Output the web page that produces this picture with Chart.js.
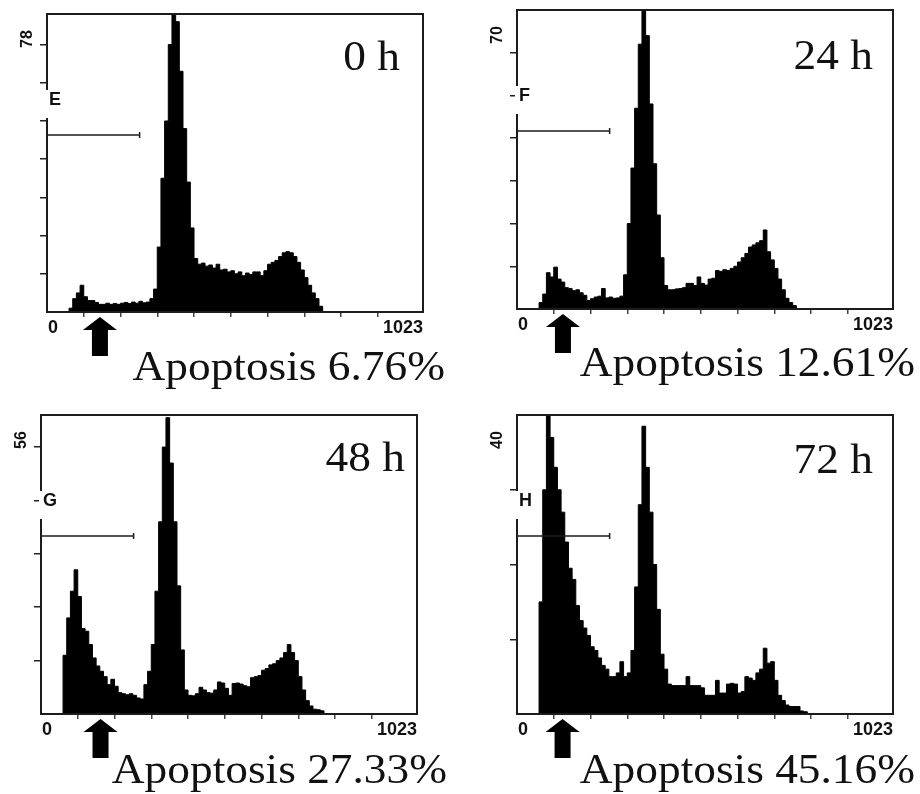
<!DOCTYPE html>
<html>
<head>
<meta charset="utf-8">
<title>DNA content histograms</title>
<script src="https://cdn.jsdelivr.net/npm/chart.js@4.4.1/dist/chart.umd.min.js"></script>
<style>
  body { margin: 0; background: #fff; }
  #wrap { position: relative; width: 920px; height: 794px; }
  canvas { position: absolute; }
</style>
</head>
<body>
<div id="wrap">
  <canvas id="c0" width="460" height="397" style="left:0;top:0"></canvas>
  <canvas id="c1" width="460" height="397" style="left:460px;top:0"></canvas>
  <canvas id="c2" width="460" height="397" style="left:0;top:397px"></canvas>
  <canvas id="c3" width="460" height="397" style="left:460px;top:397px"></canvas>
</div>
<script>
// bin start channel (10 channels per bin, 0..1023)
const channels = [
  0, 10, 20, 30, 40, 50, 60, 70, 80, 90,
  100, 110, 120, 130, 140, 150, 160, 170, 180, 190,
  200, 210, 220, 230, 240, 250, 260, 270, 280, 290,
  300, 310, 320, 330, 340, 350, 360, 370, 380, 390,
  400, 410, 420, 430, 440, 450, 460, 470, 480, 490,
  500, 510, 520, 530, 540, 550, 560, 570, 580, 590,
  600, 610, 620, 630, 640, 650, 660, 670, 680, 690,
  700, 710, 720, 730, 740, 750, 760, 770, 780, 790,
  800, 810, 820, 830, 840, 850, 860, 870, 880, 890,
  900, 910, 920, 930, 940, 950, 960, 970, 980, 990,
  1000, 1010, 1020
];

const counts0h = [
  0, 0, 0, 0, 0, 0, 1, 3.5, 5, 7,
  4, 3, 3, 2.5, 2, 2, 2.3, 2, 2.2, 2,
  2.3, 2.5, 2.2, 2.6, 2.3, 2.8, 2.4, 2.6, 3.5, 6,
  17, 35, 50, 70, 90, 76, 63, 48, 34, 22,
  14, 12.5, 12.8, 12, 12.3, 11.5, 12.5, 11, 11.2, 10.5,
  10.8, 10, 10.5, 9.5, 10.2, 9.8, 10.5, 10.5, 9.5, 10.8,
  12.5, 13, 13.5, 14.5, 15.5, 15.8, 15.5, 14.5, 13, 11,
  9, 7, 5, 3.5, 1.5, 0, 0, 0, 0, 0,
  0, 0, 0, 0, 0, 0, 0, 0, 0, 0,
  0, 0, 0, 0, 0, 0, 0, 0, 0, 0,
  0, 0, 0
];

const counts24h = [
  0, 0, 0, 0, 0, 0, 1.5, 3.5, 8.5, 7.5,
  9.8, 7, 6.3, 5, 4.8, 4.3, 4.5, 3.8, 3.2, 2,
  2.4, 2.8, 3, 4.8, 2.6, 2.8, 2.5, 2.6, 3, 8,
  20, 33, 47, 62, 75, 64, 48, 34, 22, 12,
  5.5, 4.5, 4.5, 4.7, 4.8, 5, 6, 6, 5.5, 7.5,
  6, 5.6, 7, 7.2, 9, 8.8, 9.2, 9, 9.5, 10,
  11, 12, 13, 14.5, 15, 15.5, 16, 18.5, 13.4, 11.5,
  9.5, 7, 4.5, 2.5, 1.5, 0.8, 0, 0, 0, 0,
  0, 0, 0, 0, 0, 0, 0, 0, 0, 0,
  0, 0, 0, 0, 0, 0, 0, 0, 0, 0,
  0, 0, 0
];

const counts48h = [
  0, 0, 0, 0, 0, 0, 11, 18, 23, 27,
  22, 16, 15.5, 13, 10.5, 9, 8, 7, 5.5, 6.5,
  5.2, 4, 3.8, 3.6, 3.8, 3.5, 3, 2.8, 5.5, 8,
  13, 23, 36, 50, 55.5, 47, 36, 24, 12, 4.5,
  3.5, 3.4, 3.8, 5, 4.5, 4, 3.9, 4.5, 6, 5.8,
  4.8, 3.5, 5.7, 5.8, 5.6, 5.3, 5.1, 6.8, 7, 7.2,
  8.2, 8.5, 9.2, 9.4, 10, 10.5, 11.5, 13, 11.5, 10,
  7, 4.5, 2.5, 1.5, 0.9, 0.8, 0.6, 0, 0, 0,
  0, 0, 0, 0, 0, 0, 0, 0, 0, 0,
  0, 0, 0, 0, 0, 0, 0, 0, 0, 0,
  0, 0, 0
];

const counts72h = [
  0, 0, 0, 0, 0, 0, 15, 30, 42, 37,
  33, 30, 27, 23, 19.5, 18, 14.5, 12.5, 11.5, 10.5,
  9, 8.5, 7.5, 6.5, 6, 5, 5, 5.5, 7, 5,
  5.5, 8.5, 17, 28, 38.5, 33, 27, 20, 14, 8,
  6, 4, 3.8, 3.8, 3.8, 3.8, 5, 3.8, 3.8, 3.8,
  3.5, 2.5, 2.5, 2.5, 4.5, 2.8, 2.8, 4, 4.1, 4,
  2.8, 3, 5, 4.8, 4.5, 5.5, 6, 8.8, 6.8, 7,
  4.5, 2.5, 1.8, 1.2, 1, 1, 1, 0.4, 0.3, 0,
  0, 0, 0, 0, 0, 0, 0, 0, 0, 0,
  0, 0, 0, 0, 0, 0, 0, 0, 0, 0,
  0, 0, 0
];

const yMaxLabels = [78, 70, 56, 40];
const timeLabels = ['0 h', '24 h', '48 h', '72 h'];
const gateLetters = ['E', 'F', 'G', 'H'];
const apoptosisLabels = ['Apoptosis 6.76%', 'Apoptosis 12.61%', 'Apoptosis 27.33%', 'Apoptosis 45.16%'];
const xTickLabels = ['0', '1023'];
const xTickMarks = [100, 200, 300, 400, 500, 600, 700, 800, 900];
const arrowChannels = [144, 125, 162, 124];
const gateEnd = 252;

// placement of each panel inside its canvas
const panels = [
  { id: 'c0', counts: counts0h, pad: { left: 47, right: 37, top: 14, bottom: 85 }, titleInset: 23, titleBase: 56, apoDx: 22, apoDy: 68 },
  { id: 'c1', counts: counts24h, pad: { left: 57, right: 27, top: 10, bottom: 88 }, titleInset: 20, titleBase: 59, apoDx: 22, apoDy: 67 },
  { id: 'c2', counts: counts48h, pad: { left: 41, right: 43, top: 18, bottom: 80 }, titleInset: 12, titleBase: 56, apoDx: 30, apoDy: 69 },
  { id: 'c3', counts: counts72h, pad: { left: 57, right: 27, top: 18, bottom: 80 }, titleInset: 20, titleBase: 58, apoDx: 22, apoDy: 69 }
];

function scaledText(ctx, text, x, y, font, sx) {
  ctx.save();
  ctx.translate(x, y);
  ctx.scale(sx, 1);
  ctx.font = font;
  ctx.textAlign = 'right';
  ctx.textBaseline = 'alphabetic';
  ctx.fillText(text, 0, 0);
  ctx.restore();
}

function makeChart(p, i) {
  const yMax = yMaxLabels[i];

  const decor = {
    id: 'decor' + i,
    afterDraw(chart) {
      const ctx = chart.ctx, a = chart.chartArea, xs = chart.scales.x;
      ctx.save();

      // plot frame
      ctx.strokeStyle = '#1c1c1c';
      ctx.lineWidth = 2;
      ctx.strokeRect(a.left, a.top, a.right - a.left, a.bottom - a.top);

      // axis is broken where the marker letter sits
      ctx.fillStyle = '#fff';
      ctx.fillRect(a.left - 2, a.top + 76, 4, 28);
      ctx.fillStyle = '#111';
      ctx.font = 'bold 18px "Liberation Sans"';
      ctx.textAlign = 'left';
      ctx.textBaseline = 'middle';
      ctx.fillText(gateLetters[i], a.left + 2, a.top + 86);

      // gate marker
      const gy = a.top + 121, gx = xs.getPixelForValue(gateEnd);
      ctx.strokeStyle = '#1c1c1c';
      ctx.lineWidth = 1.5;
      ctx.beginPath();
      ctx.moveTo(a.left, gy);
      ctx.lineTo(gx, gy);
      ctx.moveTo(gx, gy - 3);
      ctx.lineTo(gx, gy + 3);
      ctx.stroke();

      // y max label, rotated
      ctx.save();
      ctx.translate(a.left - 19, a.top + 25);
      ctx.rotate(-Math.PI / 2);
      ctx.font = 'bold 16px "Liberation Sans"';
      ctx.textAlign = 'center';
      ctx.fillText(String(yMax), 0, 0);
      ctx.restore();

      // x end labels
      ctx.font = 'bold 18px "Liberation Sans"';
      ctx.textAlign = 'left';
      ctx.fillText(xTickLabels[0], a.left + 1, a.bottom + 16);
      ctx.textAlign = 'right';
      ctx.fillText(xTickLabels[1], a.right, a.bottom + 16);

      // arrow under the sub-G1 region
      const ax = xs.getPixelForValue(arrowChannels[i]), ay = a.bottom + 5;
      ctx.fillStyle = '#000';
      ctx.beginPath();
      ctx.moveTo(ax, ay);
      ctx.lineTo(ax + 17, ay + 13);
      ctx.lineTo(ax + 8, ay + 13);
      ctx.lineTo(ax + 8, ay + 39);
      ctx.lineTo(ax - 8, ay + 39);
      ctx.lineTo(ax - 8, ay + 13);
      ctx.lineTo(ax - 17, ay + 13);
      ctx.closePath();
      ctx.fill();

      ctx.fillStyle = '#111';
      scaledText(ctx, timeLabels[i], a.right - p.titleInset, a.top + p.titleBase, '42px "Liberation Serif"', 1.08);
      scaledText(ctx, apoptosisLabels[i], a.right + p.apoDx, a.bottom + p.apoDy, '42px "Liberation Serif"', 1.08);

      ctx.restore();
    }
  };

  const points = channels.map((c, k) => ({ x: c, y: p.counts[k] }));

  return new Chart(document.getElementById(p.id), {
    type: 'line',
    data: {
      datasets: [{
        data: points,
        stepped: true,
        fill: 'origin',
        backgroundColor: '#000',
        borderColor: '#000',
        borderWidth: 1,
        pointRadius: 0,
        tension: 0
      }]
    },
    options: {
      responsive: false,
      animation: false,
      devicePixelRatio: 1,
      events: [],
      layout: { padding: p.pad },
      plugins: { legend: { display: false }, tooltip: { enabled: false } },
      scales: {
        x: {
          type: 'linear',
          min: 0,
          max: 1023,
          afterFit: s => { s.height = 0; },
          afterBuildTicks: s => { s.ticks = xTickMarks.map(v => ({ value: v })); },
          ticks: { display: false },
          border: { display: false },
          grid: { drawOnChartArea: false, drawTicks: true, tickLength: 5, color: '#444', lineWidth: 1.5 }
        },
        y: {
          min: 0,
          max: yMax,
          afterFit: s => { s.width = 0; },
          afterBuildTicks: s => {
            const t = [];
            for (let v = 10; v < yMax; v += 10) t.push({ value: v });
            s.ticks = t;
          },
          ticks: { display: false },
          border: { display: false },
          grid: { drawOnChartArea: false, drawTicks: true, tickLength: 7, color: '#222', lineWidth: 1.5 }
        }
      }
    },
    plugins: [decor]
  });
}

panels.forEach(makeChart);
</script>
</body>
</html>
